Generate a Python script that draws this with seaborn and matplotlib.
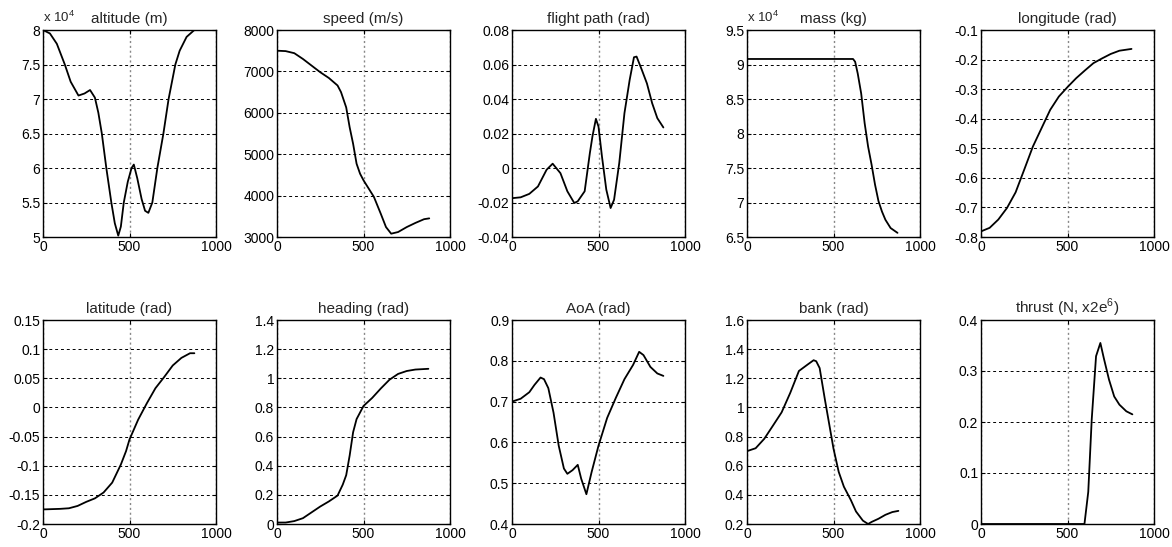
import numpy as np
import pandas as pd
import matplotlib
matplotlib.use("Agg")
import matplotlib.pyplot as plt
import seaborn as sns
from matplotlib.ticker import FuncFormatter

# time axis values (s) and state histories
alt_t = [0, 40, 80, 126, 160, 205, 240, 272, 300, 320, 340, 366, 395, 415, 435, 450, 467, 490, 512, 525,
         545, 570, 590, 609, 632, 661, 696, 726, 765, 790, 830, 875]
alt_v = [80000, 79500, 78000, 75000, 72500, 70500, 70800, 71300, 70200, 68000, 65000, 60000, 55000, 52000,
         50200, 51500, 55000, 58000, 60000, 60500, 58500, 55500, 53800, 53500, 55000, 60000, 65000, 70000,
         75000, 77000, 79000, 80000]

spd_t = [0, 50, 100, 150, 200, 250, 300, 350, 370, 400, 420, 440, 460, 480, 500, 530, 560, 600, 630, 660,
         700, 750, 800, 850, 880]
spd_v = [7500, 7490, 7440, 7300, 7140, 6980, 6840, 6660, 6500, 6130, 5650, 5250, 4770, 4530, 4370, 4170,
         3970, 3560, 3240, 3080, 3120, 3240, 3340, 3430, 3450]

fpa_t = [0, 50, 100, 150, 200, 235, 280, 320, 360, 380, 420, 450, 465, 485, 500, 520, 545, 570, 590, 620,
         650, 680, 705, 720, 750, 780, 810, 840, 875]
fpa_v = [-0.0175, -0.017, -0.015, -0.0107, -0.001, 0.0025, -0.003, -0.0135, -0.0203, -0.0193, -0.0135,
         0.0086, 0.0183, 0.0285, 0.024, 0.0067, -0.0125, -0.0232, -0.0184, 0.0029, 0.0318, 0.051, 0.0642,
         0.0646, 0.057, 0.049, 0.0376, 0.0289, 0.0235]

mass_t = [0, 613, 625, 640, 660, 680, 700, 720, 740, 760, 780, 800, 830, 870]
mass_v = [90800, 90800, 90400, 88700, 85800, 81500, 78100, 75500, 72600, 70200, 68700, 67500, 66300, 65600]

lon_t = [0, 50, 100, 150, 200, 250, 300, 350, 400, 450, 500, 550, 600, 650, 700, 750, 800, 870]
lon_v = [-0.781, -0.769, -0.741, -0.702, -0.649, -0.572, -0.494, -0.432, -0.370, -0.325, -0.293, -0.263,
         -0.237, -0.212, -0.196, -0.181, -0.170, -0.164]

lat_t = [0, 100, 150, 200, 250, 300, 350, 400, 450, 480, 500, 550, 600, 650, 700, 750, 800, 850, 875]
lat_v = [-0.175, -0.174, -0.173, -0.169, -0.162, -0.156, -0.146, -0.129, -0.098, -0.075, -0.055, -0.021,
         0.007, 0.033, 0.052, 0.072, 0.085, 0.093, 0.093]

hdg_t = [0, 50, 100, 150, 200, 250, 300, 350, 380, 400, 420, 440, 460, 500, 550, 600, 650, 700, 750, 800, 875]
hdg_v = [0.01, 0.01, 0.02, 0.04, 0.08, 0.12, 0.155, 0.195, 0.27, 0.335, 0.47, 0.63, 0.72, 0.81, 0.865,
         0.93, 0.99, 1.03, 1.05, 1.06, 1.065]

aoa_t = [0, 50, 100, 130, 165, 185, 210, 240, 270, 300, 320, 350, 380, 400, 430, 460, 500, 550, 600, 650,
         700, 735, 760, 800, 840, 875]
aoa_v = [0.700, 0.707, 0.723, 0.741, 0.759, 0.755, 0.733, 0.673, 0.592, 0.536, 0.523, 0.532, 0.545, 0.511,
         0.473, 0.527, 0.592, 0.660, 0.709, 0.755, 0.790, 0.822, 0.814, 0.785, 0.769, 0.763]

bank_t = [0, 50, 100, 150, 200, 250, 300, 350, 385, 400, 420, 450, 480, 500, 530, 560, 600, 630, 670, 700,
          720, 760, 800, 840, 875]
bank_v = [0.70, 0.72, 0.785, 0.875, 0.966, 1.10, 1.25, 1.294, 1.324, 1.317, 1.27, 1.056, 0.853, 0.717,
          0.558, 0.456, 0.365, 0.286, 0.223, 0.20, 0.214, 0.236, 0.263, 0.282, 0.29]

thr_t = [0, 598, 620, 640, 665, 690, 710, 740, 770, 800, 840, 875]
thr_v = [0, 0, 0.063, 0.205, 0.329, 0.355, 0.325, 0.283, 0.25, 0.234, 0.221, 0.215]

titles = ["altitude (m)", "speed (m/s)", "flight path (rad)", "mass (kg)", "longitude (rad)",
          "latitude (rad)", "heading (rad)", "AoA (rad)", "bank (rad)", r"thrust (N, x2e$^6$)"]
series = [(alt_t, alt_v), (spd_t, spd_v), (fpa_t, fpa_v), (mass_t, mass_v), (lon_t, lon_v),
          (lat_t, lat_v), (hdg_t, hdg_v), (aoa_t, aoa_v), (bank_t, bank_v), (thr_t, thr_v)]
yticks = [np.arange(50000, 80001, 5000), np.arange(3000, 8001, 1000), np.arange(-0.04, 0.0801, 0.02),
          np.arange(65000, 95001, 5000), np.arange(-0.8, -0.099, 0.1),
          np.arange(-0.2, 0.1501, 0.05), np.arange(0, 1.401, 0.2), np.arange(0.4, 0.901, 0.1),
          np.arange(0.2, 1.601, 0.2), np.arange(0, 0.401, 0.1)]
scaled = [True, False, False, True, False, False, False, False, False, False]

sns.set_theme(style="white")
plt.rcParams["font.family"] = ["Liberation Sans", "DejaVu Sans"]
plt.rcParams["mathtext.fontset"] = "custom"
plt.rcParams["mathtext.rm"] = "Liberation Sans"
plt.rcParams["axes.unicode_minus"] = False

W, H = 1172, 547
fig = plt.figure(figsize=(W / 100, H / 100), dpi=100)
lefts = [43, 277, 512, 747, 981]
rows = [(30, 237), (320, 524)]

for i, (title, (t, v)) in enumerate(zip(titles, series)):
    top, bot = rows[i // 5]
    ax = fig.add_axes([lefts[i % 5] / W, 1 - bot / H, 173 / W, (bot - top) / H])
    df = pd.DataFrame({"t": t, "v": v})
    sns.lineplot(data=df, x="t", y="v", ax=ax, color="black", lw=1.3, estimator=None, sort=False)
    ticks = yticks[i]
    ax.set_ylim(ticks[0], ticks[-1])
    ax.set_yticks(ticks)
    ax.set_xlim(0, 1000)
    ax.set_xticks([0, 500, 1000])
    if scaled[i]:
        ax.yaxis.set_major_formatter(FuncFormatter(lambda y, p: f"{y / 1e4:g}"))
        ax.text(0, 1.025, r"x 10$^4$", transform=ax.transAxes, ha="left", va="bottom", fontsize=9.5)
    else:
        ax.yaxis.set_major_formatter(FuncFormatter(lambda y, p: f"{round(y, 4) + 0.0:g}"))
    ax.set_xlabel("")
    ax.set_ylabel("")
    ax.set_title(title, fontsize=11, pad=5)
    ax.yaxis.grid(True, color="black", ls=(0, (3, 3)), lw=0.7)
    ax.xaxis.grid(True, color="#888888", ls=(0, (1.5, 2)), lw=1.0)
    ax.tick_params(direction="in", length=3, width=0.8, labelsize=10, top=True, right=True,
                   bottom=True, left=True, pad=2, colors="black")
    for s in ax.spines.values():
        s.set_color("black")
        s.set_linewidth(1.0)

fig.savefig("out.png", dpi=100, facecolor="white")
